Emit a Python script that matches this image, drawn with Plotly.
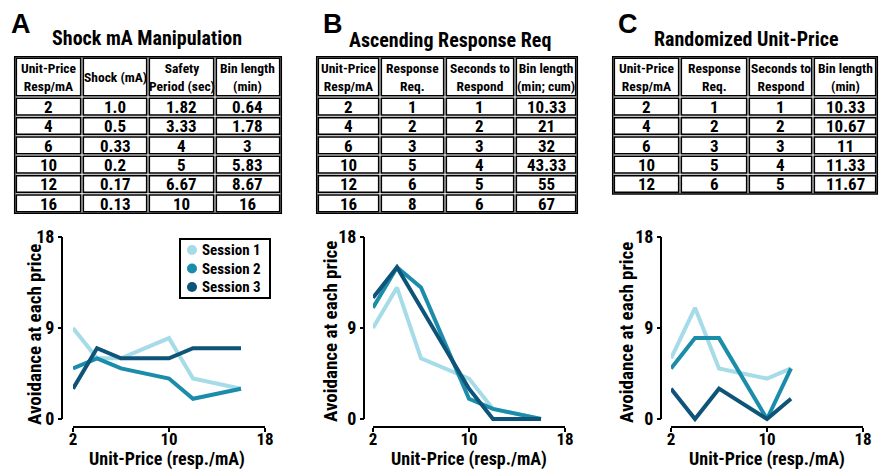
import plotly.graph_objects as go

W, H = 880, 471
FONT = "Noto Sans Condensed, Roboto Condensed, Open Sans Condensed, Liberation Sans Narrow, Roboto, sans-serif"
LETTER_FONT = "Liberation Sans, Arial, sans-serif"

# ---------------- data ----------------
sessions = ["Session 1", "Session 2", "Session 3"]
session_colors = ["#a6dbe8", "#1b8dab", "#0e5479"]

# Panel A: Shock mA Manipulation
a_price = [2, 4, 6, 10, 12, 16]
a_s1 = [9, 6, 6, 8, 4, 3]
a_s2 = [5, 6, 5, 4, 2, 3]
a_s3 = [3, 7, 6, 6, 7, 7]

# Panel B: Ascending Response Req
b_price = [2, 4, 6, 10, 12, 16]
b_s1 = [9, 13, 6, 4, 1, 0]
b_s2 = [11, 15, 13, 2, 1, 0]
b_s3 = [12, 15, 11, 3, 0, 0]

# Panel C: Randomized Unit-Price
c_price = [2, 4, 6, 10, 12]
c_s1 = [6, 11, 5, 4, 5]
c_s2 = [5, 8, 8, 0, 5]
c_s3 = [3, 0, 3, 0, 2]

x_ticks = [2, 10, 18]
y_ticks = [0, 9, 18]

# Tables
a_header = ["Unit-Price<br>Resp/mA", "Shock (mA)", "Safety<br>Period (sec)", "Bin length<br>(min)"]
a_unit_price = ["2", "4", "6", "10", "12", "16"]
a_shock = ["1.0", "0.5", "0.33", "0.2", "0.17", "0.13"]
a_safety = ["1.82", "3.33", "4", "5", "6.67", "10"]
a_bin = ["0.64", "1.78", "3", "5.83", "8.67", "16"]

b_header = ["Unit-Price<br>Resp/mA", "Response<br>Req.", "Seconds to<br>Respond", "Bin length<br>(min; cum)"]
b_unit_price = ["2", "4", "6", "10", "12", "16"]
b_resp = ["1", "2", "3", "5", "6", "8"]
b_secs = ["1", "2", "3", "4", "5", "6"]
b_bin = ["10.33", "21", "32", "43.33", "55", "67"]

c_header = ["Unit-Price<br>Resp/mA", "Response<br>Req.", "Seconds to<br>Respond", "Bin length<br>(min)"]
c_unit_price = ["2", "4", "6", "10", "12"]
c_resp = ["1", "2", "3", "5", "6"]
c_secs = ["1", "2", "3", "4", "5"]
c_bin = ["10.33", "10.67", "11", "11.33", "11.67"]

panel_letters = ["A", "B", "C"]
panel_titles = ["Shock mA Manipulation", "Ascending Response Req", "Randomized Unit-Price"]
x_title = "Unit-Price (resp./mA)"
y_title = "Avoidance at each price"

# ---------------- helpers (pixel -> paper) ----------------
def px(x):
    return x / W

def py(y):
    return 1 - y / H

fig = go.Figure()
shapes = []
annotations = []

def rect(x0, y0, x1, y1, width):
    shapes.append(dict(type="rect", xref="paper", yref="paper",
                       x0=px(x0), x1=px(x1), y0=py(y1), y1=py(y0),
                       line=dict(color="black", width=width), fillcolor="rgba(0,0,0,0)",
                       layer="above"))

def text(t, x, y, size, xanchor="center", family=FONT, angle=0):
    annotations.append(dict(text=t, x=px(x), y=py(y), xref="paper", yref="paper",
                            xanchor=xanchor, yanchor="middle", showarrow=False,
                            textangle=angle, borderpad=0,
                            font=dict(family=family, size=size, color="black", weight="bold")))

# ---------------- tables ----------------
table_specs = [
    (a_header, [a_unit_price, a_shock, a_safety, a_bin], [15, 82, 148, 215, 281]),
    (b_header, [b_unit_price, b_resp, b_secs, b_bin], [317, 380, 445, 515, 577]),
    (c_header, [c_unit_price, c_resp, c_secs, c_bin], [613, 680, 748, 813, 877]),
]
T_TOP, T_HEAD, T_ROW = 57, 40, 19.33
INSET = 1.3
for header, cols, edges in table_specs:
    n_rows = len(cols[0])
    bottom = T_TOP + T_HEAD + n_rows * T_ROW
    rect(edges[0] - 0.3, T_TOP - 0.3, edges[-1] + 0.3, bottom + 0.3, 1.5)
    for j, col in enumerate(cols):
        xl, xr = edges[j], edges[j + 1]
        xc = (xl + xr) / 2
        rect(xl + INSET, T_TOP + INSET, xr - INSET, T_TOP + T_HEAD - INSET, 1.6)
        text(header[j], xc, T_TOP + T_HEAD / 2, 13.5)
        for r, val in enumerate(col):
            yt = T_TOP + T_HEAD + r * T_ROW
            rect(xl + INSET, yt + INSET, xr - INSET, yt + T_ROW - INSET, 1.6)
            text(val, xc, yt + T_ROW / 2 + 0.5, 17)

# ---------------- line plots ----------------
panels = [
    (a_price, [a_s1, a_s2, a_s3], (73, 265), 62),
    (b_price, [b_s1, b_s2, b_s3], (373, 565), 364),
    (c_price, [c_s1, c_s2, c_s3], (671, 863), 661),
]
y_top_px, y_zero_px = 237, 419
unit_px = (y_zero_px - y_top_px) / 18.0
y_min = -0.4
y_bottom_px = y_zero_px - y_min * unit_px
x_axis_px = 427

for i, (xs, series, (xl, xr), yaxis_px) in enumerate(panels):
    n = "" if i == 0 else str(i + 1)
    for s, name, color in zip(series, sessions, session_colors):
        fig.add_trace(go.Scatter(x=xs, y=s, mode="lines", name=name, showlegend=False,
                                 line=dict(color=color, width=4),
                                 xaxis="x" + n, yaxis="y" + n, hoverinfo="skip"))
    fig.layout["xaxis" + n] = dict(
        domain=[px(xl), px(xr)], range=[2, 18], tickvals=x_ticks,
        ticks="outside", ticklen=4, tickwidth=2, tickcolor="black",
        ticklabelstandoff=-7,
        showline=True, linewidth=2, linecolor="black",
        showgrid=False, zeroline=False, anchor="free", position=py(x_axis_px),
        automargin=False,
        tickfont=dict(family=FONT, size=17, color="black", weight="bold"),
        fixedrange=True)
    fig.layout["yaxis" + n] = dict(
        domain=[py(y_bottom_px), py(y_top_px)], range=[y_min, 18], tickvals=y_ticks,
        ticks="outside", ticklen=4, tickwidth=2, tickcolor="black",
        showline=False, showgrid=False, zeroline=False,
        anchor="free", position=px(yaxis_px), automargin=False,
        tickfont=dict(family=FONT, size=18, color="black", weight="bold"),
        fixedrange=True)
    shapes.append(dict(type="line", xref="paper", yref="y" + n,
                       x0=px(yaxis_px), x1=px(yaxis_px), y0=0, y1=18,
                       line=dict(color="black", width=2)))

# ---------------- legend (panel A) ----------------
LEG_X0, LEG_Y0, LEG_X1, LEG_Y1 = 180, 239, 270, 298
rect(LEG_X0, LEG_Y0, LEG_X1, LEG_Y1, 2)
leg_rows = [250, 268.5, 287]
for name, color, yc in zip(sessions, session_colors, leg_rows):
    r = 5
    shapes.append(dict(type="circle", xref="paper", yref="paper",
                       x0=px(192 - r), x1=px(192 + r), y0=py(yc + r), y1=py(yc - r),
                       fillcolor=color, line=dict(color=color, width=0)))
    text(name, 201, yc, 15, xanchor="left")

# ---------------- titles ----------------
letter_pos = [(10, 24), (322, 24), (617, 24)]
title_pos = [(147, 38), (450, 40), (746, 39)]
ytitle_pos = [(34, 335), (330, 332), (626, 333)]
xtitle_pos = [(167, 459), (469, 459), (767, 459)]
for i in range(3):
    text(panel_letters[i], letter_pos[i][0], letter_pos[i][1], 27, xanchor="left", family=LETTER_FONT)
    text(panel_titles[i], title_pos[i][0], title_pos[i][1], 20)
    text(y_title, ytitle_pos[i][0], ytitle_pos[i][1], 19, angle=-90)
    text(x_title, xtitle_pos[i][0], xtitle_pos[i][1], 18)

fig.update_layout(
    width=W, height=H,
    margin=dict(l=0, r=0, t=0, b=0, pad=0, autoexpand=False),
    paper_bgcolor="white", plot_bgcolor="rgba(0,0,0,0)",
    font=dict(family=FONT, color="black"),
    shapes=shapes, annotations=annotations,
    showlegend=False,
)

fig.write_html("out.html", config={"displayModeBar": False, "staticPlot": True},
               post_script="document.body.style.margin='0px';")
